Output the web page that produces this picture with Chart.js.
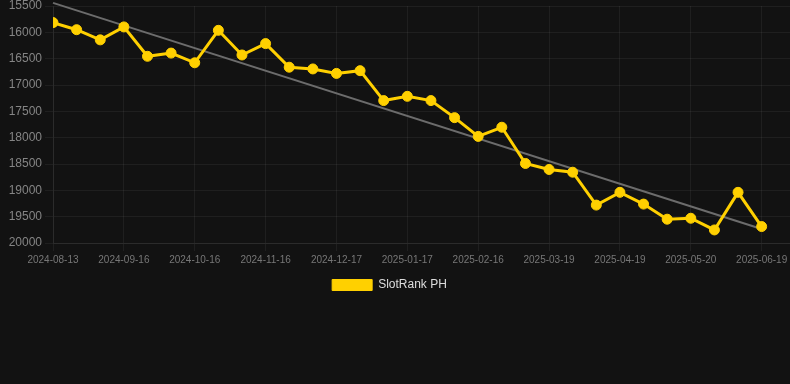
<!DOCTYPE html>
<html>
<head>
<meta charset="utf-8">
<script src="https://cdn.jsdelivr.net/npm/chart.js@4/dist/chart.umd.min.js"></script>
<style>
  html, body { margin: 0; padding: 0; background: #121212; overflow: hidden; }
  #wrap { width: 796px; height: 301px; }
</style>
</head>
<body>
<div id="wrap"><canvas id="rankChart"></canvas></div>
<script>
// dates of each sample (every third one is shown on the axis)
const dates = [
  '2024-08-13', '2024-08-24', '2024-09-05', '2024-09-16', '2024-09-26', '2024-10-06',
  '2024-10-16', '2024-10-26', '2024-11-06', '2024-11-16', '2024-11-26', '2024-12-07',
  '2024-12-17', '2024-12-27', '2025-01-07', '2025-01-17', '2025-01-27', '2025-02-06',
  '2025-02-16', '2025-02-26', '2025-03-09', '2025-03-19', '2025-03-29', '2025-04-09',
  '2025-04-19', '2025-04-29', '2025-05-10', '2025-05-20', '2025-05-30', '2025-06-09',
  '2025-06-19'
]

// rank values
const ranks = [
  15815, 15950, 16143, 15897, 16455, 16394,
  16578, 15962, 16430, 16214, 16662, 16695,
  16780, 16728, 17296, 17215, 17296, 17620,
  17976, 17802, 18490, 18604, 18656, 19280,
  19038, 19261, 19548, 19530, 19752, 19038,
  19688
]

// trend line, first and last sample
const trendValues = [15440, 19735]

const yTicks = { min: 15500, max: 20000, step: 500 }

const gold = '#ffd000'
const gridColor = 'rgba(255,255,255,0.055)'

Chart.defaults.font.family = "'Liberation Sans', Arial, sans-serif"

// legend sits a little left of centre in the original
const legendNudge = {
  id: 'legendNudge',
  afterLayout (chart) {
    chart.legend.right -= 17
  }
}

const ctx = document.getElementById('rankChart').getContext('2d')
new Chart(ctx, {
  type: 'line',
  data: {
    datasets: [
      {
        label: 'SlotRank PH',
        data: ranks.map((v, i) => ({ x: i, y: v })),
        borderColor: gold,
        backgroundColor: gold,
        borderWidth: 3,
        pointRadius: 5,
        pointBorderWidth: 1,
        pointBackgroundColor: gold,
        pointBorderColor: gold,
        tension: 0,
        order: 0
      },
      {
        label: 'trend',
        data: [
          { x: 0, y: trendValues[0] },
          { x: dates.length - 1, y: trendValues[1] }
        ],
        borderColor: '#6c6c6c',
        borderWidth: 2,
        pointRadius: 0,
        clip: false,
        order: 1
      }
    ]
  },
  plugins: [legendNudge],
  options: {
    responsive: true,
    maintainAspectRatio: false,
    animation: false,
    layout: { padding: { left: 0, right: 0, top: 5 } },
    plugins: {
      legend: {
        position: 'bottom',
        labels: {
          color: '#dddddd',
          boxWidth: 40,
          boxHeight: 11,
          font: { size: 12 },
          generateLabels: chart =>
            Chart.defaults.plugins.legend.labels.generateLabels(chart)
              .filter(item => item.text !== 'trend')
              .map(item => Object.assign(item, { lineWidth: 1 }))
        }
      },
      tooltip: { enabled: false }
    },
    scales: {
      x: {
        type: 'linear',
        min: 0,
        max: 31.2,
        grid: { color: gridColor },
        border: { color: gridColor },
        ticks: {
          stepSize: 3,
          includeBounds: false,
          maxRotation: 0,
          color: '#777777',
          font: { size: 10 },
          callback: value => dates[value]
        }
      },
      y: {
        reverse: true,
        min: yTicks.min,
        max: yTicks.max,
        grid: { color: gridColor },
        border: { color: gridColor },
        afterFit: s => { s.width = 53; s.paddingTop = 0 },
        ticks: {
          stepSize: yTicks.step,
          color: '#858585',
          font: { size: 12 },
          callback: value => String(value)
        }
      }
    }
  }
})
</script>
</body>
</html>
